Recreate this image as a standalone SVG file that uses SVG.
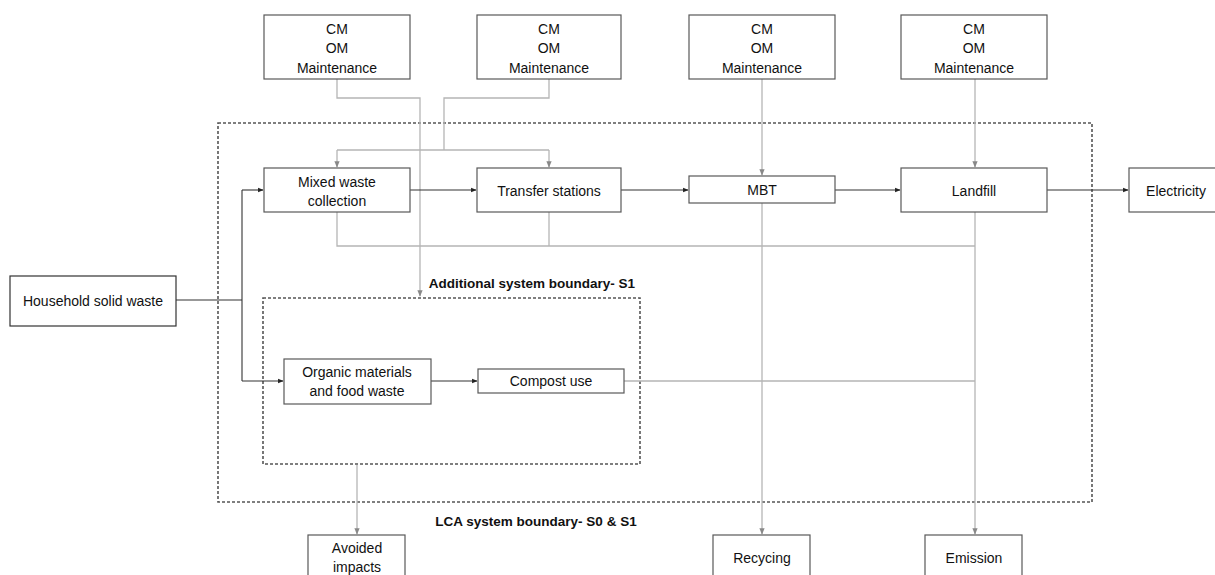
<svg xmlns="http://www.w3.org/2000/svg" width="1215" height="575" viewBox="0 0 1215 575">
<defs>
<style>
.box{fill:#fff;stroke:#595959;stroke-width:1.2}
.t{font-family:"Liberation Sans",Arial,sans-serif;font-size:14px;fill:#111;text-anchor:middle}
.b{font-family:"Liberation Sans",Arial,sans-serif;font-size:13.5px;font-weight:bold;fill:#111;text-anchor:middle}
.k{fill:none;stroke:#333;stroke-width:1.1}
.g{fill:none;stroke:#b5b5b5;stroke-width:1.3}
.dash{fill:none;stroke:#555;stroke-width:1.6;stroke-dasharray:3 2}
</style>
<marker id="ak" viewBox="0 0 10 10" refX="9" refY="5" markerWidth="5" markerHeight="5" orient="auto"><path d="M0,1 L10,5 L0,9 z" fill="#222"/></marker>
<marker id="ag" viewBox="0 0 10 10" refX="9" refY="5" markerWidth="5" markerHeight="5" orient="auto"><path d="M0,1 L10,5 L0,9 z" fill="#888"/></marker>
</defs>
<rect width="1215" height="575" fill="#fff"/>
<g id="boundaries">
<rect class="dash" x="218" y="123" width="874" height="379"/>
<rect class="dash" x="263" y="298" width="377" height="166"/>
<text class="b" x="532" y="288">Additional system boundary- S1</text>
<text class="b" x="536" y="526">LCA system boundary- S0 &amp; S1</text>
</g>
<g id="connectors">
<path class="g" d="M337,79 V98 H420 V296" marker-end="url(#ag)"/>
<path class="g" d="M549,79 V98 H444 V150"/>
<path class="g" d="M337,150 H549"/>
<path class="g" d="M337,150 V167" marker-end="url(#ag)"/>
<path class="g" d="M549,150 V167" marker-end="url(#ag)"/>
<path class="g" d="M762,79 V175" marker-end="url(#ag)"/>
<path class="g" d="M975,79 V167" marker-end="url(#ag)"/>
<path class="g" d="M337,212 V246 H975"/>
<path class="g" d="M549,212 V246"/>
<path class="g" d="M975,212 V534" marker-end="url(#ag)"/>
<path class="g" d="M762,203 V534" marker-end="url(#ag)"/>
<path class="g" d="M624,381 H975"/>
<path class="g" d="M357,465 V534" marker-end="url(#ag)"/>
<path class="k" d="M176,300 H242"/>
<path class="k" d="M242,190 V381"/>
<path class="k" d="M242,190 H263" marker-end="url(#ak)"/>
<path class="k" d="M242,381 H283" marker-end="url(#ak)"/>
<path class="k" d="M410,190 H476" marker-end="url(#ak)"/>
<path class="k" d="M621,190 H688" marker-end="url(#ak)"/>
<path class="k" d="M835,190 H900" marker-end="url(#ak)"/>
<path class="k" d="M1047,190 H1128" marker-end="url(#ak)"/>
<path class="k" d="M431,381 H477" marker-end="url(#ak)"/>
</g>
<g id="cm1"><rect class="box" x="264" y="15" width="146" height="64"/><text class="t" x="337" y="34">CM</text><text class="t" x="337" y="53">OM</text><text class="t" x="337" y="73">Maintenance</text></g>
<g id="cm2"><rect class="box" x="477" y="15" width="144" height="64"/><text class="t" x="549" y="34">CM</text><text class="t" x="549" y="53">OM</text><text class="t" x="549" y="73">Maintenance</text></g>
<g id="cm3"><rect class="box" x="689" y="15" width="146" height="64"/><text class="t" x="762" y="34">CM</text><text class="t" x="762" y="53">OM</text><text class="t" x="762" y="73">Maintenance</text></g>
<g id="cm4"><rect class="box" x="901" y="15" width="146" height="64"/><text class="t" x="974" y="34">CM</text><text class="t" x="974" y="53">OM</text><text class="t" x="974" y="73">Maintenance</text></g>
<g id="mixed"><rect class="box" x="264" y="168" width="146" height="44"/><text class="t" x="337" y="187">Mixed waste</text><text class="t" x="337" y="206">collection</text></g>
<g id="transfer"><rect class="box" x="477" y="168" width="144" height="44"/><text class="t" x="549" y="196">Transfer stations</text></g>
<g id="mbt"><rect class="box" x="689" y="176" width="146" height="27"/><text class="t" x="762" y="195">MBT</text></g>
<g id="landfill"><rect class="box" x="901" y="168" width="146" height="44"/><text class="t" x="974" y="196">Landfill</text></g>
<g id="electricity"><rect class="box" x="1129" y="168" width="90" height="44"/><text class="t" x="1176" y="196">Electricity</text></g>
<g id="household"><rect class="box" x="10" y="276" width="166" height="50" style="stroke:#333"/><text class="t" x="93" y="306">Household solid waste</text></g>
<g id="organic"><rect class="box" x="284" y="359" width="147" height="45"/><text class="t" x="357" y="377">Organic materials</text><text class="t" x="357" y="396">and food waste</text></g>
<g id="compost"><rect class="box" x="478" y="369" width="146" height="24"/><text class="t" x="551" y="386">Compost use</text></g>
<g id="avoided"><rect class="box" x="308" y="535" width="97" height="45"/><text class="t" x="357" y="553">Avoided</text><text class="t" x="357" y="572">impacts</text></g>
<g id="recycing"><rect class="box" x="713" y="535" width="97" height="45"/><text class="t" x="762" y="563">Recycing</text></g>
<g id="emission"><rect class="box" x="925" y="535" width="97" height="45"/><text class="t" x="974" y="563">Emission</text></g>
</svg>
